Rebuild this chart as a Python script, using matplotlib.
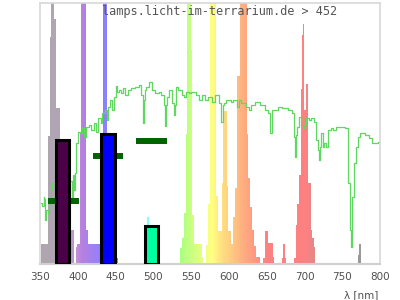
import numpy as np
import matplotlib
matplotlib.use('Agg')
import matplotlib.pyplot as plt
from matplotlib.colors import to_rgb

# ---- lamp spectrum: step segments (nm from, nm to, relative intensity in %; >100 = clipped)
spec_lo = [350.9, 360.6, 363.2, 365.0, 368.5, 371.2, 376.0, 390.0, 397.2, 399.0,
           402.5, 404.0, 411.0, 413.5, 433.0, 439.0, 451.6, 491.6,
           535.3, 537.5, 538.3, 541.0, 543.2, 544.2, 549.5, 550.8, 553.4, 564.0,
           569.7, 572.7, 575.0, 582.5, 585.2, 591.3, 592.6, 597.1, 598.8, 602.4,
           604.9, 607.9, 611.1, 614.6, 623.5, 625.7, 627.9, 630.2, 633.2, 635.9,
           644.7, 647.8, 652.2, 658.0, 670.3, 671.6, 674.3,
           686.2, 688.4, 690.1, 692.7, 695.0, 696.3, 697.6, 699.4, 701.6, 705.1,
           708.3, 710.4, 712.7, 770.9, 772.6]
spec_hi = [360.6, 363.2, 365.0, 368.5, 371.2, 376.0, 390.0, 394.6, 399.0, 402.5,
           404.0, 411.0, 413.5, 433.0, 439.0, 451.6, 453.0, 494.2,
           537.5, 538.3, 541.0, 543.2, 544.2, 549.5, 550.8, 553.4, 564.0, 565.3,
           572.7, 575.0, 582.5, 585.2, 591.3, 592.6, 597.1, 598.8, 602.4, 604.9,
           607.9, 611.1, 614.6, 623.5, 625.7, 627.9, 630.2, 633.2, 635.9, 641.2,
           647.8, 652.2, 658.0, 659.7, 671.6, 674.3, 675.6,
           688.4, 690.1, 692.7, 695.0, 696.3, 697.6, 699.4, 701.6, 705.1, 708.3,
           710.4, 712.7, 714.0, 772.6, 774.4]
spec_val = [7.7, 49, 87, 115, 94, 60, 25, 13, 6.5, 7.7,
            50, 115, 13, 7.7, 115, 7.7, 2.3, 18,
            6, 12.6, 10, 19.5, 50, 115, 82, 18.8, 7.7, 2.7,
            7.3, 23, 115, 26, 12.6, 31, 58.6, 30, 12.6, 7.7,
            18, 29, 72, 115, 50, 33, 22, 13, 7, 2.7,
            2.3, 12.6, 8, 2.7, 2.3, 7.7, 2.3,
            2.3, 15, 23, 34, 67, 88, 92, 59, 69, 31,
            13, 10, 6.5, 3.4, 7.7]

# ---- reference (sunlight) curve
ref_nm = [351.3, 354.0, 355.3, 356.6, 357.9, 359.3, 360.6, 363.2, 364.6, 367.2,
          376.5, 384.4, 389.7, 391.0, 392.4, 393.7, 395.0, 397.0, 399.4, 401.6,
          404.3, 406.9, 409.6, 412.2, 416.2, 419.7, 422.8, 425.4, 429.4, 431.7,
          433.4, 437.4, 438.7, 441.3, 445.3, 446.6, 449.3, 451.9, 453.2, 455.9,
          458.5, 461.2, 465.1, 469.1, 473.1, 478.4, 482.4, 485.0, 486.7, 488.3,
          489.0, 492.9, 495.6, 499.6, 504.9, 508.8, 512.8, 515.4, 516.4, 517.7,
          519.4, 522.1, 526.0, 527.4, 528.7, 531.3, 535.3, 539.3, 541.9, 544.6,
          548.5, 552.5, 555.1, 559.1, 561.8, 565.7, 571.0, 575.0, 579.0, 584.3,
          588.2, 590.9, 592.2, 594.9, 597.5, 601.5, 604.1, 608.1, 612.1, 614.7,
          617.4, 621.3, 625.3, 627.9, 631.9, 635.9, 638.5, 645.1, 650.4, 653.1,
          655.7, 658.4, 663.7, 667.6, 674.3, 680.9, 684.9, 686.2, 688.2, 690.1,
          691.5, 694.1, 696.8, 698.7, 700.7, 703.4, 707.4, 710.0, 714.0, 715.3,
          716.6, 718.0, 719.3, 720.6, 721.9, 723.2, 724.6, 727.2, 729.9, 732.5,
          736.5, 740.4, 744.4, 751.0, 757.6, 759.0, 760.3, 762.0, 762.9, 764.3,
          766.9, 769.6, 770.9, 776.2, 782.8, 789.4, 790.7, 796.0, 800.0]
ref_val = [23.4, 22.2, 25.7, 24.9, 16.9, 20.7, 19.5, 23.4, 28.4, 31.0,
           30.0, 28.0, 22.6, 32.0, 24.5, 34.0, 28.4, 35.0, 46.4, 50.6,
           50.2, 52.1, 48.7, 52.5, 53.3, 51.3, 54.0, 50.6, 55.9, 54.0,
           57.9, 59.0, 55.2, 60.2, 62.8, 59.0, 64.0, 68.2, 65.9, 66.7,
           65.5, 67.4, 64.8, 66.7, 67.4, 67.8, 68.6, 64.8, 54.0, 62.8,
           66.7, 67.8, 69.7, 66.7, 65.5, 65.9, 64.8, 60.9, 52.9, 60.9,
           64.0, 66.7, 61.7, 57.1, 60.9, 67.8, 66.7, 64.8, 64.0, 65.9,
           65.5, 65.9, 65.9, 64.8, 62.8, 64.8, 62.8, 64.0, 62.1, 64.8,
           61.7, 54.4, 60.9, 61.7, 62.8, 62.8, 62.1, 62.8, 60.2, 62.8,
           61.7, 61.7, 60.2, 59.0, 60.9, 62.1, 62.1, 60.9, 59.0, 57.9,
           50.2, 59.0, 59.0, 60.2, 59.8, 59.0, 57.9, 48.7, 41.0, 49.4,
           52.5, 56.3, 56.3, 52.1, 53.3, 55.9, 55.2, 55.9, 54.4, 51.3,
           47.5, 43.7, 39.8, 44.8, 47.5, 50.2, 44.8, 46.4, 44.8, 51.3,
           52.1, 51.3, 52.5, 52.5, 52.1, 31.0, 13.0, 6.5, 21.8, 25.7,
           38.7, 44.8, 48.7, 50.2, 49.4, 48.3, 46.4, 46.4, 46.7]

# ---- integrated band boxes and reference markers
box_center = [380, 440, 497.5]
box_height = [47.7, 50.0, 14.5]
box_colors = ['#4b0048', '#0000ff', '#00ffa0']
marker_center = [381, 440, 497.5]
marker_level = [24.1, 41.4, 47.3]

xticks = [350, 400, 450, 500, 550, 600, 650, 700, 750, 800]
title = 'lamps.licht-im-terrarium.de > 452'
xlabel = 'λ [nm]'

# wavelength -> display colour anchors
anchors = [(350, '#aea6ae'), (388, '#b2a4b6'), (398, '#c290d8'), (405, '#b880e0'),
           (420, '#a080f0'), (436, '#8c80ff'), (455, '#8080ff'), (480, '#80c0ff'),
           (492, '#80ffff'), (510, '#80ffa0'), (535, '#a8ff80'), (546, '#c0ff80'),
           (565, '#e8ff80'), (578, '#ffff80'), (590, '#ffe080'), (605, '#ffc880'),
           (620, '#ffac80'), (640, '#ff9080'), (650, '#ff8080'), (700, '#ff8080'),
           (716, '#e08888'), (740, '#b8a0a0'), (770, '#999999'), (800, '#999999')]
a_nm = np.array([a[0] for a in anchors], float)
a_rgb = np.array([to_rgb(a[1]) for a in anchors])


def wl_color(w):
    return tuple(np.interp(w, a_nm, a_rgb[:, i]) for i in range(3))


fig = plt.figure(figsize=(4, 3), dpi=100)
ax = fig.add_axes([0.1, 0.12, 0.85, 0.869])
ax.set_xlim(350, 800)
ax.set_ylim(0, 100)

# spectrum bars with colour gradient
step = 0.25
xs, ws, hs, cs = [], [], [], []
for lo, hi, v in zip(spec_lo, spec_hi, spec_val):
    edges = np.arange(lo, hi, step)
    for e in edges:
        w = min(step, hi - e) + 0.02
        xs.append(e); ws.append(w); hs.append(v); cs.append(wl_color(e + w / 2))
ax.bar(xs, hs, width=ws, align='edge', color=cs, linewidth=0, zorder=1)

# reference curve
ax.plot(ref_nm, ref_val, color='#5ed85e', lw=0.9, drawstyle='steps-mid', zorder=2)

# markers
ax.bar(marker_center, [2.4] * 3, width=41, bottom=[m - 1.2 for m in marker_level],
       color='#006400', linewidth=0, zorder=3)

# band boxes
ax.bar(box_center, box_height, width=18, color=box_colors, edgecolor='black',
       linewidth=2.2, zorder=4)

for s in ['left', 'top', 'right']:
    ax.spines[s].set_color('#d8d8d8')
    ax.spines[s].set_linewidth(1.2)
ax.spines['bottom'].set_color('#d0d0d0')
ax.spines['bottom'].set_linewidth(1.5)
ax.set_yticks([])
ax.set_xticks(xticks)
ax.tick_params(axis='x', length=0, pad=6, labelsize=7.5, labelcolor='#505050')

fig.text(0.255, 0.963, title, family='DejaVu Sans Mono', fontsize=8.6,
         color='#555555', ha='left', va='center')
fig.text(0.945, 0.017, xlabel, fontsize=7.5, color='#505050', ha='right', va='center')

fig.savefig('out.png', dpi=100)
